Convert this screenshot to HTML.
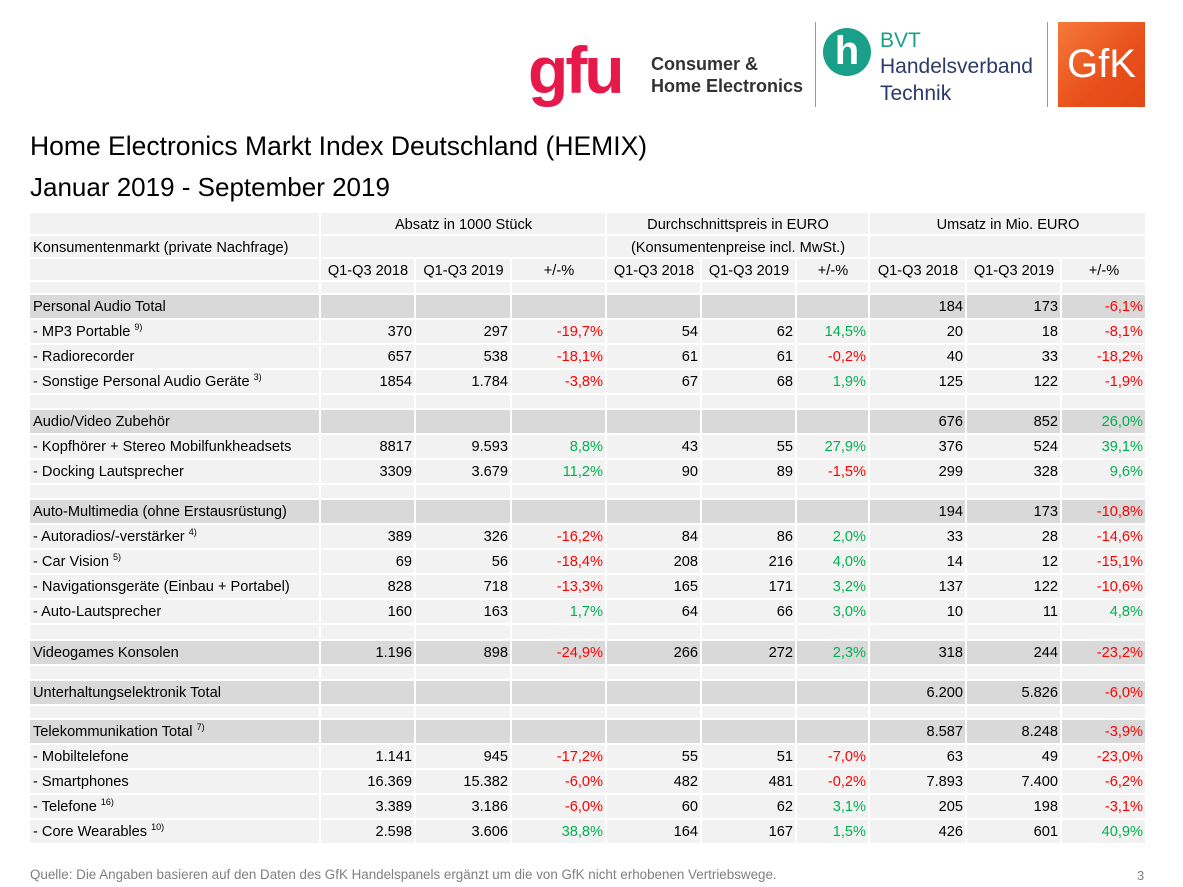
<!DOCTYPE html>
<html><head><meta charset="utf-8">
<style>
body{margin:0;width:1183px;height:887px;background:#fff;position:relative;overflow:hidden;font-family:"Liberation Sans",Arial,sans-serif;color:#000}
.abs{position:absolute}
table{position:absolute;left:28px;top:211px;border-collapse:separate;border-spacing:2px;table-layout:fixed;font-size:14.6px}
td{background:#f2f2f2;padding:0 2px 0 3px;line-height:16px;white-space:nowrap;overflow:visible;text-align:right;vertical-align:middle}
td.l{text-align:left}
td.c{text-align:center}
tr.g td{background:#d9d9d9}
tr.h td{vertical-align:bottom;padding-bottom:1px}
.r{color:#ff0000}.gr{color:#00b050}
sup{font-size:9px;vertical-align:6px;line-height:0}
</style></head><body>
<div class="abs" style="left:528px;top:30px;font-size:66px;font-weight:bold;color:#e5194a;letter-spacing:-3px;line-height:80px">gfu</div>
<div class="abs" style="left:651px;top:53px;font-size:18px;font-weight:bold;color:#333;line-height:22px">Consumer &amp;<br>Home Electronics</div>
<div class="abs" style="left:815px;top:22px;width:1px;height:85px;background:#999"></div>
<div class="abs" style="left:823px;top:28px;width:48px;height:48px;border-radius:50%;background:#1aa088;color:#fff;font-size:40px;font-weight:bold;text-align:center;line-height:46px">h</div>
<div class="abs" style="left:880px;top:28px;font-size:21px;color:#1aa088;line-height:26px">BVT</div>
<div class="abs" style="left:880px;top:53px;font-size:21px;color:#2c3a66;line-height:27px">Handelsverband<br>Technik</div>
<div class="abs" style="left:1047px;top:22px;width:1px;height:85px;background:#999"></div>
<div class="abs" style="left:1058px;top:22px;width:87px;height:85px;background:linear-gradient(135deg,#f47a3a,#e84e1b 60%,#e04a16);color:#fff;font-size:40px;text-align:center;line-height:85px">GfK</div>
<div class="abs" style="left:30px;top:130px;font-size:26.5px;line-height:32px">Home Electronics Markt Index Deutschland (HEMIX)</div>
<div class="abs" style="left:30px;top:171px;font-size:26px;line-height:32px">Januar 2019 - September 2019</div>
<table>
<colgroup><col style="width:289px"><col style="width:93px"><col style="width:94px"><col style="width:93px"><col style="width:93px"><col style="width:93px"><col style="width:71px"><col style="width:95px"><col style="width:93px"><col style="width:83px"></colgroup>
<tr class="h" style="height:21px"><td class="l"></td><td class="c" colspan="3">Absatz in 1000 Stück</td><td class="c" colspan="3">Durchschnittspreis in EURO</td><td class="c" colspan="3">Umsatz in Mio. EURO</td></tr>
<tr class="h" style="height:21px"><td class="l">Konsumentenmarkt (private Nachfrage)</td><td colspan="3"></td><td class="c" colspan="3">(Konsumentenpreise incl. MwSt.)</td><td colspan="3"></td></tr>
<tr class="h" style="height:21px"><td></td><td class="c">Q1-Q3 2018</td><td class="c">Q1-Q3 2019</td><td class="c">+/-%</td><td class="c">Q1-Q3 2018</td><td class="c">Q1-Q3 2019</td><td class="c">+/-%</td><td class="c">Q1-Q3 2018</td><td class="c">Q1-Q3 2019</td><td class="c">+/-%</td></tr>
<tr style="height:11px"><td></td><td></td><td></td><td></td><td></td><td></td><td></td><td></td><td></td><td></td></tr>
<tr class="g" style="height:23px"><td class="l">Personal Audio Total</td><td></td><td></td><td></td><td></td><td></td><td></td><td>184</td><td>173</td><td class="r">-6,1%</td></tr>
<tr style="height:23px"><td class="l">- MP3 Portable <sup>9)</sup></td><td>370</td><td>297</td><td class="r">-19,7%</td><td>54</td><td>62</td><td class="gr">14,5%</td><td>20</td><td>18</td><td class="r">-8,1%</td></tr>
<tr style="height:23px"><td class="l">- Radiorecorder</td><td>657</td><td>538</td><td class="r">-18,1%</td><td>61</td><td>61</td><td class="r">-0,2%</td><td>40</td><td>33</td><td class="r">-18,2%</td></tr>
<tr style="height:23px"><td class="l">- Sonstige Personal Audio Geräte <sup>3)</sup></td><td>1854</td><td>1.784</td><td class="r">-3,8%</td><td>67</td><td>68</td><td class="gr">1,9%</td><td>125</td><td>122</td><td class="r">-1,9%</td></tr>
<tr style="height:13px"><td></td><td></td><td></td><td></td><td></td><td></td><td></td><td></td><td></td><td></td></tr>
<tr class="g" style="height:23px"><td class="l">Audio/Video Zubehör</td><td></td><td></td><td></td><td></td><td></td><td></td><td>676</td><td>852</td><td class="gr">26,0%</td></tr>
<tr style="height:23px"><td class="l">- Kopfhörer + Stereo Mobilfunkheadsets</td><td>8817</td><td>9.593</td><td class="gr">8,8%</td><td>43</td><td>55</td><td class="gr">27,9%</td><td>376</td><td>524</td><td class="gr">39,1%</td></tr>
<tr style="height:23px"><td class="l">- Docking Lautsprecher</td><td>3309</td><td>3.679</td><td class="gr">11,2%</td><td>90</td><td>89</td><td class="r">-1,5%</td><td>299</td><td>328</td><td class="gr">9,6%</td></tr>
<tr style="height:13px"><td></td><td></td><td></td><td></td><td></td><td></td><td></td><td></td><td></td><td></td></tr>
<tr class="g" style="height:23px"><td class="l">Auto-Multimedia (ohne Erstausrüstung)</td><td></td><td></td><td></td><td></td><td></td><td></td><td>194</td><td>173</td><td class="r">-10,8%</td></tr>
<tr style="height:23px"><td class="l">- Autoradios/-verstärker <sup>4)</sup></td><td>389</td><td>326</td><td class="r">-16,2%</td><td>84</td><td>86</td><td class="gr">2,0%</td><td>33</td><td>28</td><td class="r">-14,6%</td></tr>
<tr style="height:23px"><td class="l">- Car Vision <sup>5)</sup></td><td>69</td><td>56</td><td class="r">-18,4%</td><td>208</td><td>216</td><td class="gr">4,0%</td><td>14</td><td>12</td><td class="r">-15,1%</td></tr>
<tr style="height:23px"><td class="l">- Navigationsgeräte (Einbau + Portabel)</td><td>828</td><td>718</td><td class="r">-13,3%</td><td>165</td><td>171</td><td class="gr">3,2%</td><td>137</td><td>122</td><td class="r">-10,6%</td></tr>
<tr style="height:23px"><td class="l">- Auto-Lautsprecher</td><td>160</td><td>163</td><td class="gr">1,7%</td><td>64</td><td>66</td><td class="gr">3,0%</td><td>10</td><td>11</td><td class="gr">4,8%</td></tr>
<tr style="height:14px"><td></td><td></td><td></td><td></td><td></td><td></td><td></td><td></td><td></td><td></td></tr>
<tr class="g" style="height:23px"><td class="l">Videogames Konsolen</td><td>1.196</td><td>898</td><td class="r">-24,9%</td><td>266</td><td>272</td><td class="gr">2,3%</td><td>318</td><td>244</td><td class="r">-23,2%</td></tr>
<tr style="height:13px"><td></td><td></td><td></td><td></td><td></td><td></td><td></td><td></td><td></td><td></td></tr>
<tr class="g" style="height:23px"><td class="l">Unterhaltungselektronik Total</td><td></td><td></td><td></td><td></td><td></td><td></td><td>6.200</td><td>5.826</td><td class="r">-6,0%</td></tr>
<tr style="height:12px"><td></td><td></td><td></td><td></td><td></td><td></td><td></td><td></td><td></td><td></td></tr>
<tr class="g" style="height:23px"><td class="l">Telekommunikation Total <sup>7)</sup></td><td></td><td></td><td></td><td></td><td></td><td></td><td>8.587</td><td>8.248</td><td class="r">-3,9%</td></tr>
<tr style="height:23px"><td class="l">- Mobiltelefone</td><td>1.141</td><td>945</td><td class="r">-17,2%</td><td>55</td><td>51</td><td class="r">-7,0%</td><td>63</td><td>49</td><td class="r">-23,0%</td></tr>
<tr style="height:23px"><td class="l">- Smartphones</td><td>16.369</td><td>15.382</td><td class="r">-6,0%</td><td>482</td><td>481</td><td class="r">-0,2%</td><td>7.893</td><td>7.400</td><td class="r">-6,2%</td></tr>
<tr style="height:23px"><td class="l">- Telefone <sup>16)</sup></td><td>3.389</td><td>3.186</td><td class="r">-6,0%</td><td>60</td><td>62</td><td class="gr">3,1%</td><td>205</td><td>198</td><td class="r">-3,1%</td></tr>
<tr style="height:23px"><td class="l">- Core Wearables <sup>10)</sup></td><td>2.598</td><td>3.606</td><td class="gr">38,8%</td><td>164</td><td>167</td><td class="gr">1,5%</td><td>426</td><td>601</td><td class="gr">40,9%</td></tr>
</table>
<div class="abs" style="left:30px;top:867px;font-size:13.4px;color:#7f7f7f;line-height:16px">Quelle: Die Angaben basieren auf den Daten des GfK Handelspanels ergänzt um die von GfK nicht erhobenen Vertriebswege.</div>
<div class="abs" style="left:1137px;top:868px;font-size:13px;color:#7f7f7f;line-height:16px">3</div>
</body></html>
